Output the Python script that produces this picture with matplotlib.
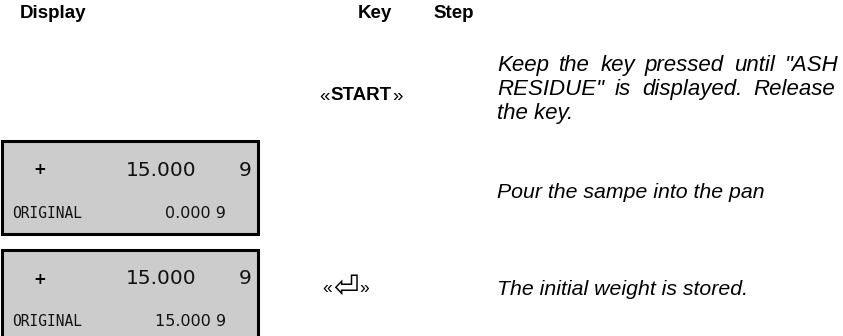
import matplotlib
matplotlib.use("Agg")
import matplotlib.pyplot as plt
from matplotlib.patches import Rectangle

W, H = 843, 336
headers = ["Display", "Key", "Step"]
display_top = [None, ["+", "15.000", "9"], ["+", "15.000", "9"]]
display_bottom = [None, ["ORIGINAL", "0.000 9"], ["ORIGINAL", "15.000 9"]]
keys_bold = ["START", "", ""]
keys_symbol = ["", "", "\u23ce"]
step_lines = [
    ["Keep the key pressed until \"ASH", "RESIDUE\" is displayed. Release", "the key."],
    ["Pour the sampe into the pan"],
    ["The initial weight is stored."],
]

fig = plt.figure(figsize=(W / 100, H / 100), dpi=100)
ax = fig.add_axes([0, 0, 1, 1])
ax.set_xlim(0, W)
ax.set_ylim(H, 0)
ax.axis("off")
renderer = fig.canvas.get_renderer()

sans = "Liberation Sans"
fs = 13.5
sfs = 15.3


def width_px(t):
    return t.get_window_extent(renderer=renderer).width


def justified(x0, x1, y, s, **kw):
    words = s.split(" ")
    texts = [ax.text(0, y, wd, va="baseline", ha="left", **kw) for wd in words]
    widths = [width_px(t) for t in texts]
    gap = (x1 - x0 - sum(widths)) / (len(words) - 1)
    x = x0
    for t, wdt in zip(texts, widths):
        t.set_x(x)
        x += wdt + gap


ax.text(20, 14, headers[0], fontsize=fs, fontweight="bold", family=sans, va="center", ha="left")
ax.text(375, 14, headers[1], fontsize=fs, fontweight="bold", family=sans, va="center", ha="center")
ax.text(433, 14, headers[2], fontsize=fs, fontweight="bold", family=sans, va="center", ha="left")

row_y = [88, 188, 289]
boxes = [None, (2, 141, 256, 93), (2, 250, 256, 92)]
step_x = 497
skw = dict(fontsize=sfs, style="italic", family=sans)
pkw = dict(fontsize=16.0, style="italic", family=sans)

for i in range(3):
    y = row_y[i]
    if boxes[i] is not None:
        x0, y0, w, h = boxes[i]
        ax.add_patch(Rectangle((x0, y0), w, h, facecolor="#cccccc", edgecolor="black", lw=2.2))
        top = display_top[i]
        bot = display_bottom[i]
        lcd = dict(fontsize=14.5, family="DejaVu Sans", color="#111111", va="center")
        ax.text(40, y0 + 29, top[0], ha="center", fontsize=11, fontweight="bold", family="DejaVu Sans", va="center")
        ax.text(196, y0 + 29, top[1], ha="right", **lcd)
        ax.text(251, y0 + 29, top[2], ha="right", **lcd)
        ax.text(12, y0 + 72, bot[0], ha="left", fontsize=10.5, family="DejaVu Sans Mono", va="center", color="#111111")
        ax.text(226, y0 + 72, bot[1], ha="right", fontsize=11.5, family="DejaVu Sans", va="center", color="#111111")
    if keys_bold[i]:
        yk = y + 8
        t1 = ax.text(319, yk, "\u00ab", fontsize=fs, family=sans, va="center", ha="left")
        x = 319 + width_px(t1) + 1
        t2 = ax.text(x, yk, keys_bold[i], fontsize=fs, fontweight="bold", family=sans, va="center", ha="left")
        x += width_px(t2) + 1
        ax.text(x, yk, "\u00bb", fontsize=fs, family=sans, va="center", ha="left")
    if keys_symbol[i]:
        t1 = ax.text(322, y, "\u00ab", fontsize=12.5, family=sans, va="center", ha="left")
        x = 322 + width_px(t1) + 1
        t2 = ax.text(x, y - 1, keys_symbol[i], fontsize=22, family="DejaVu Sans", va="center", ha="left")
        x += width_px(t2) + 1
        ax.text(x, y, "\u00bb", fontsize=12.5, family=sans, va="center", ha="left")

# Step column (baselines)
justified(step_x, 839, 71, step_lines[0][0], **pkw)
justified(step_x, 835, 95, step_lines[0][1], **pkw)
ax.text(step_x, 119, step_lines[0][2], va="baseline", ha="left", **pkw)
ax.text(step_x, 198, step_lines[1][0], va="baseline", ha="left", **skw)
ax.text(step_x, 295, step_lines[2][0], va="baseline", ha="left", **skw)

fig.savefig("out.png", dpi=100)
